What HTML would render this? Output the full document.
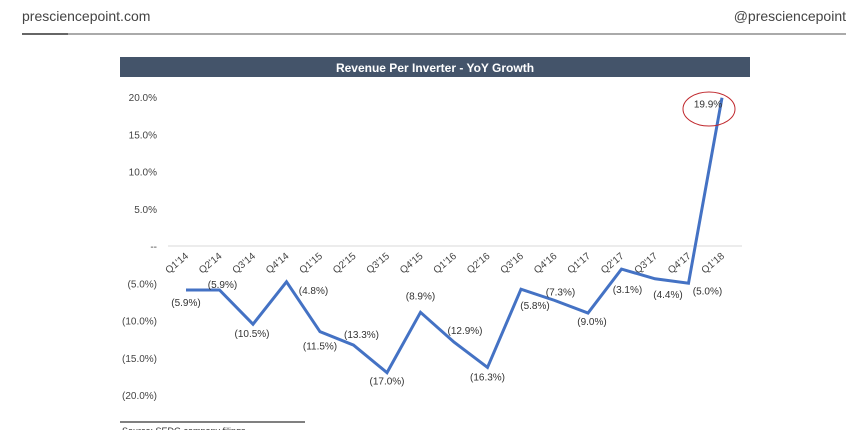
<!DOCTYPE html>
<html><head><meta charset="utf-8"><style>
body{margin:0;background:#fff;width:859px;height:430px;overflow:hidden;font-family:"Liberation Sans",sans-serif}
svg{position:absolute;left:0;top:0}
</style></head><body>
<svg width="859" height="430">
<text x="22" y="21" font-size="14" fill="#444">presciencepoint.com</text>
<text x="846" y="21" font-size="14" fill="#444" text-anchor="end">@presciencepoint</text>
<line x1="68" y1="34" x2="846" y2="34" stroke="#aaa" stroke-width="2"/>
<line x1="22" y1="34" x2="68" y2="34" stroke="#666" stroke-width="2"/>
<rect x="120" y="57" width="630" height="20" fill="#44546a"/>
<text x="435" y="72" font-size="12" font-weight="bold" fill="#fff" text-anchor="middle">Revenue Per Inverter - YoY Growth</text>
<g id="plot"></g>
<ellipse cx="709" cy="109" rx="26" ry="17" fill="none" stroke="#c0282d" stroke-width="1"/>
<line x1="120" y1="422" x2="305" y2="422" stroke="#000" stroke-width="1"/>
<text x="122" y="434" font-size="9" fill="#333">Source: SEDG company filings</text>
</svg>
<script>
const categories=["Q1'14","Q2'14","Q3'14","Q4'14","Q1'15","Q2'15","Q3'15","Q4'15","Q1'16","Q2'16","Q3'16","Q4'16","Q1'17","Q2'17","Q3'17","Q4'17","Q1'18"];
const values=[-5.9,-5.9,-10.5,-4.8,-11.5,-13.3,-17.0,-8.9,-12.9,-16.3,-5.8,-7.3,-9.0,-3.1,-4.4,-5.0,19.9];
const yTicks=[20,15,10,5,0,-5,-10,-15,-20];
const labelDx=[0,3,-1,27,0,8,0,0,11,0,14,6,4,6,13,19,-14];
const labelDy=[12,-6,9,8,14,-11,8,-17,-12,9,16,-9,8,20,15,7,6];
const NS="http://www.w3.org/2000/svg";
const g=document.getElementById('plot');
const X=i=>186+i*33.5;
const Y=v=>246-v*7.45;
function fmt(v){if(v===0)return "--";const s=Math.abs(v).toFixed(1)+"%";return v<0?"("+s+")":s;}
function mk(t,a){const e=document.createElementNS(NS,t);for(const k in a)e.setAttribute(k,a[k]);g.appendChild(e);return e;}
const grid=mk('line',{x1:168,y1:Y(0),x2:742,y2:Y(0),stroke:'#d9d9d9','stroke-width':1});


yTicks.forEach(v=>{const t=mk('text',{x:157,y:Y(v)+4,'font-size':10,fill:'#444','text-anchor':'end'});t.textContent=fmt(v);

});
categories.forEach((c,i)=>{const x=X(i)+3,y=Y(0)+11;const t=mk('text',{x:x,y:y,'font-size':10,fill:'#444','text-anchor':'end',transform:`rotate(-40 ${x} ${y})`});t.textContent=c;

});
const pl=mk('polyline',{points:values.map((v,i)=>X(i)+','+Y(v)).join(' '),fill:'none',stroke:'#4472c4','stroke-width':3,'stroke-linejoin':'miter'});


values.forEach((v,i)=>{const t=mk('text',{x:X(i)+labelDx[i],y:Y(v)+labelDy[i]+4,'font-size':10,fill:'#333','text-anchor':'middle'});t.textContent=fmt(v);

});
</script>
</body></html>
